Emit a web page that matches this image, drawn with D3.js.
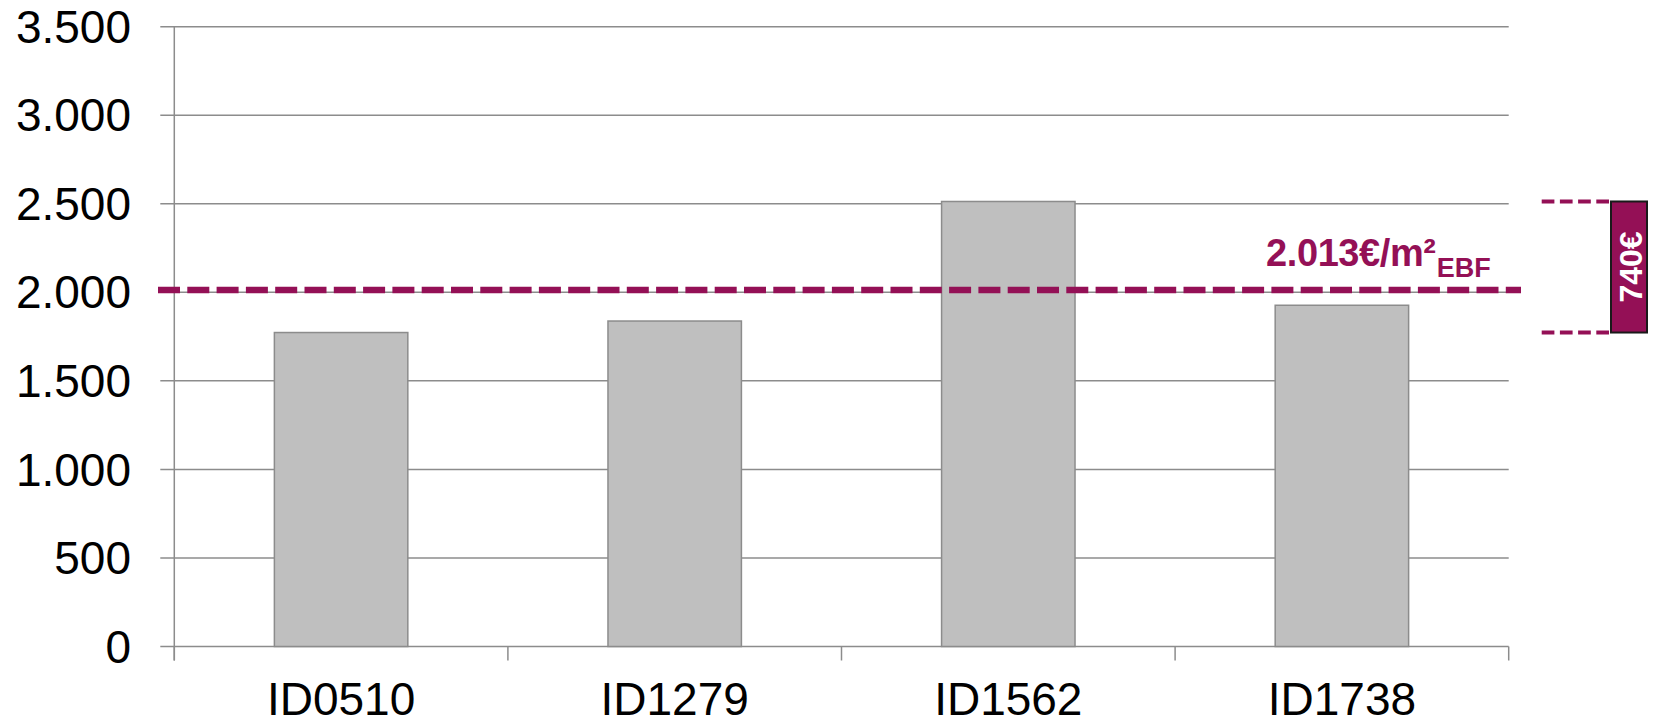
<!DOCTYPE html>
<html>
<head>
<meta charset="utf-8">
<script src="https://cdn.jsdelivr.net/npm/d3@7"></script>
<style>
  html, body { margin: 0; padding: 0; background: #fff; }
  svg { display: block; font-family: "Liberation Sans", Arial, sans-serif; }
</style>
</head>
<body>
<svg id="chart" width="1656" height="725"></svg>
<script>
// Construction cost per building (€/m² EBF)
const categories = ["ID0510", "ID1279", "ID1562", "ID1738"];
const costs = [1773, 1838, 2513, 1927];
const average = 2013;
const yTicks = [0, 500, 1000, 1500, 2000, 2500, 3000, 3500];

const accent = "#941056";
const gridColor = "#8c8c8c";

const de = d3.formatLocale({ decimal: ",", thousands: ".", grouping: [3], currency: ["", "€"] });
const fmt = de.format(",d");

const svg = d3.select("#chart");
const plot = { left: 174.3, right: 1508.7, top: 26.7, bottom: 646.5 };

const y = d3.scaleLinear().domain([0, 3500]).range([plot.bottom, plot.top]);
const x = d3.scaleBand().domain(categories).range([plot.left, plot.right]).padding(0);

// horizontal gridlines with left tick stubs
svg.append("g").selectAll("line").data(yTicks).join("line")
  .attr("x1", plot.left - 14).attr("x2", plot.right)
  .attr("y1", d => y(d)).attr("y2", d => y(d))
  .attr("stroke", gridColor).attr("stroke-width", 1.5);

// y tick labels
svg.append("g").selectAll("text").data(yTicks).join("text")
  .attr("x", 131).attr("y", d => y(d)).attr("dy", "0.35em")
  .attr("text-anchor", "end").attr("font-size", 46).attr("fill", "#000")
  .text(d => fmt(d));

// vertical axis line
svg.append("line")
  .attr("x1", plot.left).attr("x2", plot.left)
  .attr("y1", plot.top).attr("y2", plot.bottom + 14)
  .attr("stroke", gridColor).attr("stroke-width", 1.5);

// category boundary ticks below the baseline
const bounds = categories.map(c => x(c)).concat([x(categories[categories.length - 1]) + x.bandwidth()]);
svg.append("g").selectAll("line").data(bounds).join("line")
  .attr("x1", d => d).attr("x2", d => d)
  .attr("y1", plot.bottom).attr("y2", plot.bottom + 14)
  .attr("stroke", gridColor).attr("stroke-width", 1.5);

// bars
const barW = x.bandwidth() * 0.4;
svg.append("g").selectAll("rect").data(categories).join("rect")
  .attr("x", c => x(c) + (x.bandwidth() - barW) / 2)
  .attr("y", (c, i) => y(costs[i]))
  .attr("width", barW)
  .attr("height", (c, i) => y(0) - y(costs[i]))
  .attr("fill", "#bfbfbf").attr("stroke", gridColor).attr("stroke-width", 1.5);

// category labels
svg.append("g").selectAll("text").data(categories).join("text")
  .attr("x", c => x(c) + x.bandwidth() / 2).attr("y", 715)
  .attr("text-anchor", "middle").attr("font-size", 46).attr("fill", "#000")
  .text(c => c);

// average line
svg.append("line")
  .attr("x1", 158).attr("x2", 1521)
  .attr("y1", y(average)).attr("y2", y(average))
  .attr("stroke", accent).attr("stroke-width", 6.5)
  .attr("stroke-dasharray", "22,7.3");

// average label
const lbl = svg.append("text")
  .attr("x", 1266).attr("y", y(average) - 24.3)
  .attr("fill", accent).attr("font-weight", "bold");
lbl.append("tspan").attr("font-size", 38).attr("letter-spacing", -0.4)
  .text(fmt(average) + "€/m²");
lbl.append("tspan").attr("font-size", 27).attr("dy", 11).attr("dx", 1)
  .text("EBF");

// spread bracket between the highest and lowest building
const hi = d3.max(costs), lo = d3.min(costs);
const spread = hi - lo;
svg.append("g").selectAll("line").data([hi, lo]).join("line")
  .attr("x1", 1541.7).attr("x2", 1611)
  .attr("y1", d => y(d)).attr("y2", d => y(d))
  .attr("stroke", accent).attr("stroke-width", 4)
  .attr("stroke-dasharray", "12.7,5.5");

svg.append("rect")
  .attr("x", 1611).attr("y", y(hi))
  .attr("width", 36).attr("height", y(lo) - y(hi))
  .attr("fill", accent).attr("stroke", "#1a1a1a").attr("stroke-width", 2);

const cy = (y(hi) + y(lo)) / 2;
svg.append("text")
  .attr("transform", `translate(1630.5,${cy}) rotate(-90)`)
  .attr("text-anchor", "middle").attr("dy", "0.35em")
  .attr("font-size", 32).attr("font-weight", "bold").attr("fill", "#fff")
  .text(spread + "€");
</script>
</body>
</html>
